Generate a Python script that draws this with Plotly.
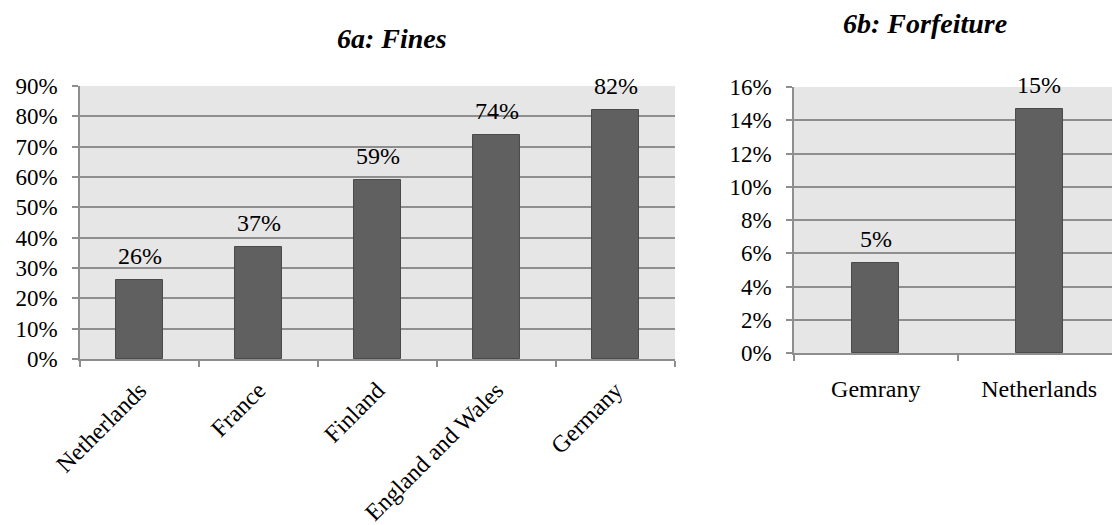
import plotly.graph_objects as go

# Panel 6a: share of fines
fines_countries = ["Netherlands", "France", "Finland", "England and Wales", "Germany"]
fines_values = [0.26, 0.37, 0.59, 0.74, 0.82]

# Panel 6b: share of forfeiture
forfeiture_countries = ["Gemrany", "Netherlands"]
forfeiture_values = [0.054, 0.147]

W, H = 1112, 525
SERIF = "Liberation Serif"
BAR = "#606060"
BAR_EDGE = "#4a4a4a"
GRID = "#8e8e8e"
BG = "#e6e6e6"


def px_x(p):
    return p / W


def px_y(p):
    return 1 - p / H


fig = go.Figure()

fig.add_trace(go.Bar(
    x=fines_countries, y=fines_values,
    xaxis="x", yaxis="y",
    width=0.40,
    marker=dict(color=BAR, line=dict(color=BAR_EDGE, width=1)),
    showlegend=False, hoverinfo="x+y",
))

fig.add_trace(go.Bar(
    x=forfeiture_countries, y=forfeiture_values,
    xaxis="x2", yaxis="y2",
    width=0.29,
    marker=dict(color=BAR, line=dict(color=BAR_EDGE, width=1)),
    showlegend=False, hoverinfo="x+y",
))

# value labels above each bar
labels = []
for xs, ys, xr, yr in [(fines_countries, fines_values, "x", "y"),
                       (forfeiture_countries, forfeiture_values, "x2", "y2")]:
    for c, v in zip(xs, ys):
        labels.append(dict(
            text=f"{v:.0%}", x=c, y=v, xref=xr, yref=yr,
            showarrow=False, xanchor="center", yanchor="bottom", yshift=9,
            font=dict(family=SERIF, size=24, color="black"),
        ))

common_y = dict(
    tickformat=".0%",
    showgrid=True, gridcolor=GRID, gridwidth=1.5,
    showline=True, linecolor=GRID, linewidth=1.5,
    ticks="outside", ticklen=6, tickcolor=GRID, tickwidth=1.5,
    ticklabelstandoff=10,
    tickfont=dict(family=SERIF, size=23, color="black"),
    zeroline=False, automargin=False, fixedrange=True,
)
common_x = dict(
    type="category",
    showline=True, linecolor=GRID, linewidth=1.5,
    ticks="outside", ticklen=6, tickcolor=GRID, tickwidth=1.5,
    tickson="boundaries",
    tickfont=dict(family=SERIF, size=24, color="black"),
    automargin=False, fixedrange=True,
)

fig.update_layout(
    width=W, height=H,
    margin=dict(l=0, r=0, t=0, b=0),
    paper_bgcolor="white",
    plot_bgcolor=BG,
    bargap=0,
    xaxis=dict(common_x, domain=[px_x(80), px_x(675)], range=[-0.5, 4.5],
               tickangle=-45, ticklabelstandoff=6, anchor="y"),
    yaxis=dict(common_y, domain=[px_y(359), px_y(86)], range=[0, 0.9],
               dtick=0.1, anchor="x"),
    xaxis2=dict(common_x, domain=[px_x(794), 1.0], range=[-0.5, 1.445],
                tickangle=0, ticklabelstandoff=13, anchor="y2"),
    yaxis2=dict(common_y, domain=[px_y(353), px_y(87)], range=[0, 0.16],
                dtick=0.02, anchor="x2"),
    annotations=labels + [
        dict(text="<b><i>6a: Fines</i></b>", x=px_x(392), y=px_y(38),
             xref="paper", yref="paper", showarrow=False,
             xanchor="center", yanchor="middle",
             font=dict(family=SERIF, size=28, color="black")),
        dict(text="<b><i>6b: Forfeiture</i></b>", x=px_x(925), y=px_y(24),
             xref="paper", yref="paper", showarrow=False,
             xanchor="center", yanchor="middle",
             font=dict(family=SERIF, size=28, color="black")),
    ],
)

fig.write_html("out.html")
